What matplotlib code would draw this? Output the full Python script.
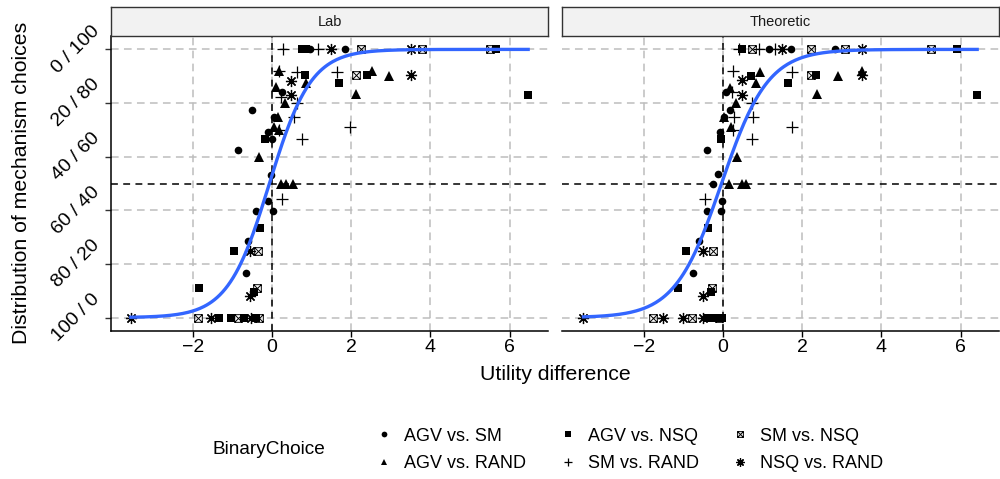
import numpy as np
import matplotlib
matplotlib.use('Agg')
import matplotlib.pyplot as plt
from matplotlib.path import Path
from matplotlib.lines import Line2D

plt.rcParams['font.family'] = ['Liberation Sans', 'DejaVu Sans']

# ---- data -----------------------------------------------------------------
PANELS = ['Lab', 'Theoretic']
GROUPS = ['AGV vs. SM', 'AGV vs. RAND', 'AGV vs. NSQ',
          'SM vs. RAND', 'SM vs. NSQ', 'NSQ vs. RAND']

# Lab panel: (x, y) per group
lab_agv_sm_x = [0.95, 1.85, 0.25, -0.52, 0.05, -0.10, 0.00, -0.85, -0.03, -0.10, -0.40, 0.03, -0.60, -0.65]
lab_agv_sm_y = [1.00, 1.00, 0.843, 0.775, 0.749, 0.693, 0.667, 0.625, 0.532, 0.434, 0.397, 0.397, 0.285, 0.165]
lab_agv_rand_x = [0.17, 0.85, 2.53, 2.95, 2.13, 0.10, 0.32, 0.15, 0.05, 0.17, -0.33, 0.22, 0.35, 0.52]
lab_agv_rand_y = [0.918, 0.876, 0.920, 0.900, 0.835, 0.858, 0.801, 0.749, 0.712, 0.700, 0.599, 0.498, 0.498, 0.498]
lab_agv_nsq_x = [0.75, 0.85, 5.65, 0.83, 1.70, 2.40, 6.47, -0.18, -0.30, -0.97, -1.85, -0.47, -1.35, -1.03, -0.70, -0.40]
lab_agv_nsq_y = [1.00, 1.00, 1.00, 0.904, 0.873, 0.906, 0.831, 0.667, 0.333, 0.247, 0.109, 0.097, 0.0, 0.0, 0.0, 0.0]
lab_sm_rand_x = [0.27, 1.15, 0.17, 0.62, 1.63, 0.22, 0.62, 0.55, 0.17, 0.75, 1.98, 0.25]
lab_sm_rand_y = [1.00, 1.00, 0.918, 0.914, 0.914, 0.824, 0.801, 0.749, 0.700, 0.667, 0.712, 0.442]
lab_sm_nsq_x = [2.25, 3.80, 5.50, 2.13, -0.35, -0.38, -1.87, -0.85, -0.33]
lab_sm_nsq_y = [1.00, 1.00, 1.00, 0.906, 0.247, 0.109, 0.0, 0.0, 0.0]
lab_nsq_rand_x = [1.50, 3.50, 0.47, 0.47, 3.50, -0.55, -0.55, -3.57, -1.55, -0.53]
lab_nsq_rand_y = [1.00, 1.00, 0.884, 0.831, 0.906, 0.247, 0.082, 0.0, 0.0, 0.0]

# Theoretic panel
th_agv_sm_x = [1.15, 1.72, 2.82, 0.07, 0.17, 0.02, -0.07, -0.40, -0.12, -0.25, -0.03, -0.40, -0.05, -0.60, -0.75]
th_agv_sm_y = [1.00, 1.00, 1.00, 0.843, 0.775, 0.749, 0.693, 0.625, 0.535, 0.498, 0.434, 0.397, 0.397, 0.285, 0.165]
th_agv_rand_x = [0.92, 0.82, 2.38, 2.90, 3.52, 0.17, 0.32, 0.02, 0.20, 0.35, 0.15, 0.47, 0.57]
th_agv_rand_y = [0.917, 0.876, 0.835, 0.900, 0.920, 0.857, 0.801, 0.749, 0.712, 0.599, 0.498, 0.498, 0.498]
th_agv_nsq_x = [0.47, 5.90, 0.70, 1.65, 2.35, 6.42, -0.05, -0.37, -0.95, -1.15, -0.30, -0.40, -0.25, -0.15, -0.02]
th_agv_nsq_y = [1.00, 1.00, 0.900, 0.876, 0.906, 0.831, 0.667, 0.333, 0.247, 0.109, 0.097, 0.0, 0.0, 0.0, 0.0]
th_sm_rand_x = [0.40, 0.90, 1.30, 0.25, 1.73, 0.22, 0.72, 0.27, 0.75, 0.25, 0.72, 1.73, -0.47]
th_sm_rand_y = [1.00, 1.00, 1.00, 0.918, 0.914, 0.843, 0.801, 0.749, 0.749, 0.700, 0.667, 0.712, 0.442]
th_sm_nsq_x = [0.72, 2.23, 3.07, 5.25, 2.23, -0.25, -0.27, -1.77, -0.78, -0.10]
th_sm_nsq_y = [1.00, 1.00, 1.00, 1.00, 0.906, 0.247, 0.112, 0.0, 0.0, 0.0]
th_nsq_rand_x = [1.48, 3.52, 0.47, 0.47, 3.52, -0.50, -0.52, -3.53, -1.52, -1.02, -0.50]
th_nsq_rand_y = [1.00, 1.00, 0.885, 0.831, 0.906, 0.247, 0.082, 0.0, 0.0, 0.0, 0.0]

# logistic fit (intercept, slope) per panel
lab_fit = (0.13, 1.9)
th_fit = (0.07, 1.7)

y_ticks = [0, 0.2, 0.4, 0.6, 0.8, 1.0]
y_labels = ['100 / 0', '80 / 20', '60 / 40', '40 / 60', '20 / 80', '0 / 100']
x_ticks = [-2, 0, 2, 4, 6]

# ---- styles ----------------------------------------------------------------
box_x = Path([(-1, -1), (1, -1), (1, 1), (-1, 1), (-1, -1),
              (-1, -1), (1, 1), (-1, 1), (1, -1)],
             [Path.MOVETO, Path.LINETO, Path.LINETO, Path.LINETO, Path.CLOSEPOLY,
              Path.MOVETO, Path.LINETO, Path.MOVETO, Path.LINETO])

STYLE = {
    'AGV vs. SM':   dict(marker='o', ms=5.5, mfc='black', mec='black', mew=0),
    'AGV vs. RAND': dict(marker='^', ms=6.5, mfc='black', mec='black', mew=0),
    'AGV vs. NSQ':  dict(marker='s', ms=5.2, mfc='black', mec='black', mew=0),
    'SM vs. RAND':  dict(marker='+', ms=8, mec='black', mew=0.9),
    'SM vs. NSQ':   dict(marker=box_x, ms=5.5, mfc='none', mec='black', mew=0.7),
    'NSQ vs. RAND': dict(marker=(8, 2, 0), ms=8, mec='black', mew=0.9),
}

data = {
    'Lab': [(lab_agv_sm_x, lab_agv_sm_y), (lab_agv_rand_x, lab_agv_rand_y),
            (lab_agv_nsq_x, lab_agv_nsq_y), (lab_sm_rand_x, lab_sm_rand_y),
            (lab_sm_nsq_x, lab_sm_nsq_y), (lab_nsq_rand_x, lab_nsq_rand_y)],
    'Theoretic': [(th_agv_sm_x, th_agv_sm_y), (th_agv_rand_x, th_agv_rand_y),
                  (th_agv_nsq_x, th_agv_nsq_y), (th_sm_rand_x, th_sm_rand_y),
                  (th_sm_nsq_x, th_sm_nsq_y), (th_nsq_rand_x, th_nsq_rand_y)],
}
fits = {'Lab': lab_fit, 'Theoretic': th_fit}

all_x = np.concatenate([np.asarray(x) for p in data.values() for x, _ in p])
xmin, xmax = all_x.min(), all_x.max()
xr = xmax - xmin
xlim = (xmin - 0.05 * xr, xmax + 0.05 * xr)

fig = plt.figure(figsize=(10, 4.79), dpi=100)
W, H = 1000, 479
top_px, bot_px = 36, 331
lefts = [111, 562]
width = 437

for k, (panel, left) in enumerate(zip(PANELS, lefts)):
    ax = fig.add_axes([left / W, 1 - bot_px / H, width / W, (bot_px - top_px) / H])
    ax.set_xlim(*xlim)
    ax.set_ylim(-0.05, 1.05)
    ax.set_xticks(x_ticks)
    ax.set_xticklabels([f'{t}'.replace('-', '\u2212') for t in x_ticks])
    ax.set_yticks(y_ticks)
    for t in x_ticks:
        ax.axvline(t, color='#bdbdbd', lw=1.1, ls=(0, (5, 3.5)), zorder=0)
    for t in y_ticks:
        ax.axhline(t, color='#bdbdbd', lw=1.1, ls=(0, (5, 3.5)), zorder=0)
    ax.axvline(0, color='black', lw=1.1, ls=(0, (4.5, 3.5)), zorder=1)
    ax.axhline(0.5, color='black', lw=1.1, ls=(0, (4.5, 3.5)), zorder=1)

    for g, (xs, ys) in zip(GROUPS, data[panel]):
        ax.plot(xs, ys, ls='none', zorder=3, **STYLE[g])

    xs_p = np.concatenate([np.asarray(x) for x, _ in data[panel]])
    grid = np.linspace(xs_p.min(), xs_p.max(), 300)
    a, b = fits[panel]
    ax.plot(grid, 1 / (1 + np.exp(-(a + b * grid))), color='#3366FF', lw=2.4, zorder=4)

    for sp in ['top', 'right']:
        ax.spines[sp].set_visible(False)
    ax.spines['bottom'].set_linewidth(1.1)
    ax.spines['left'].set_linewidth(1.1)
    ax.tick_params(axis='x', length=4, width=1.0, labelsize=14, colors='black', pad=2)
    if k == 0:
        ax.set_yticklabels(y_labels, rotation=45, fontsize=14, va='center')
        ax.tick_params(axis='y', length=4, width=1.0, color='#333333', pad=2)
    else:
        ax.spines['left'].set_visible(False)
        ax.tick_params(axis='y', left=False, labelleft=False)

    # facet strip
    sax = fig.add_axes([left / W, 1 - top_px / H, width / W, 29 / H])
    sax.set_facecolor('#f2f2f2')
    sax.set_xticks([])
    sax.set_yticks([])
    for sp in sax.spines.values():
        sp.set_linewidth(1.0)
        sp.set_color('#333333')
    sax.text(0.5, 0.5, panel, ha='center', va='center', fontsize=10.5,
             color='#1a1a1a', transform=sax.transAxes)

fig.text(555 / W, 1 - 375 / H, 'Utility difference', ha='center', va='center', fontsize=15.3)
fig.text(22 / W, 1 - 183 / H, 'Distribution of mechanism choices', ha='center',
         va='center', rotation=90, fontsize=15.3)

handles = []
for g in GROUPS:
    st = dict(STYLE[g])
    st['ms'] = st['ms'] * 0.75
    handles.append(Line2D([], [], ls='none', **st))
fig.legend(handles, GROUPS, ncol=3, loc='center left', frameon=False,
           bbox_to_anchor=(368 / W, 1 - 450 / H), fontsize=13,
           handlelength=0.8, handletextpad=0.7, columnspacing=1.9, labelspacing=0.6,
           borderpad=0.0)
fig.text(213 / W, 1 - 450 / H, 'BinaryChoice', ha='left', va='center', fontsize=13.7)

fig.savefig('out.png', dpi=100)
